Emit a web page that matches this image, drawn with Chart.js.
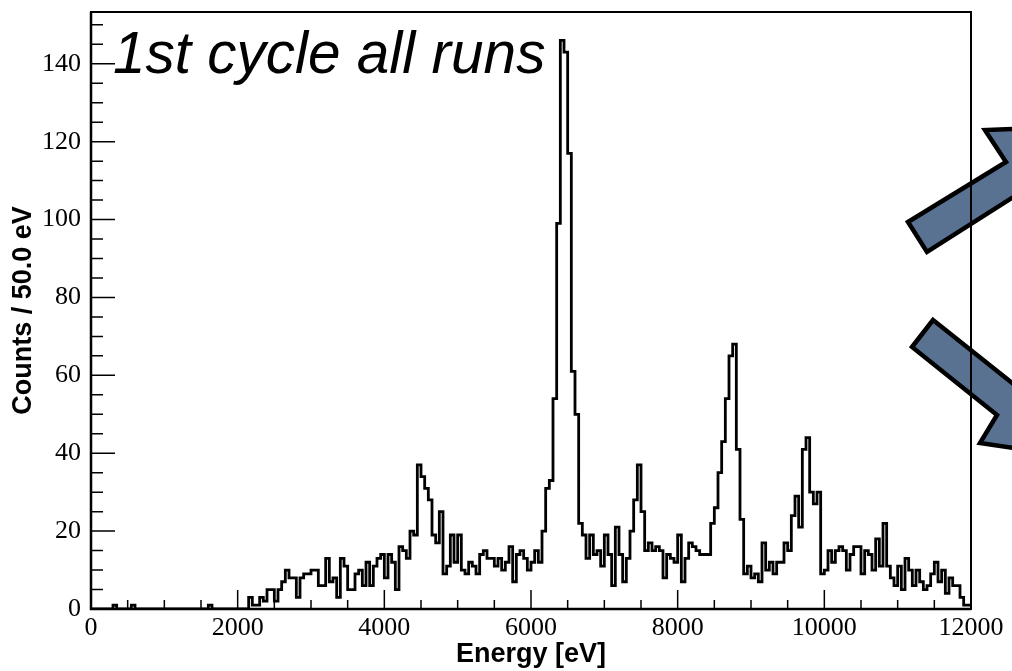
<!DOCTYPE html>
<html>
<head>
<meta charset="utf-8">
<script src="https://cdn.jsdelivr.net/npm/chart.js@4.4.1/dist/chart.umd.min.js"></script>
<style>
  html, body { margin: 0; padding: 0; background: #fff; }
  canvas { display: block; }
</style>
</head>
<body>
<canvas id="myChart" width="1012" height="671"></canvas>
<script>
// histogram: 240 bins of 50 eV from 0 to 12000 eV
const binWidth = 50;
const energyMin = 0;
const energyMax = 12000;
const countsMax = 153.3;

const counts = [
  0, 0, 0, 0, 0, 0, 1, 0, 0, 0,
  0, 1, 0, 0, 0, 0, 0, 0, 0, 0,
  0, 0, 0, 0, 0, 0, 0, 0, 0, 0,
  0, 0, 1, 0, 0, 0, 0, 0, 0, 0,
  0, 0, 0, 3, 1, 1, 3, 2, 5, 5,
  2, 5, 7, 10, 8, 8, 3, 8, 9, 9,
  10, 10, 6, 6, 13, 7, 8, 3, 13, 11,
  5, 5, 9, 10, 6, 12, 6, 11, 13, 14,
  8, 14, 12, 5, 16, 15, 13, 20, 19, 37,
  34, 31, 28, 19, 17, 25, 9, 11, 19, 12,
  19, 10, 9, 12, 11, 9, 14, 15, 13, 13,
  11, 13, 10, 12, 16, 7, 14, 15, 13, 10,
  12, 15, 12, 20, 31, 33, 54, 99, 146, 143,
  117, 61, 50, 22, 19, 13, 19, 14, 15, 11,
  19, 14, 6, 21, 14, 7, 13, 20, 28, 37,
  25, 15, 17, 15, 16, 15, 8, 14, 13, 12,
  19, 7, 13, 17, 16, 15, 14, 14, 14, 22,
  26, 35, 43, 54, 65, 68, 41, 23, 9, 11,
  8, 9, 7, 17, 10, 12, 9, 12, 12, 17,
  15, 24, 29, 21, 41, 44, 30, 27, 30, 9,
  10, 15, 12, 15, 16, 15, 10, 14, 16, 16,
  9, 15, 14, 10, 18, 11, 22, 11, 8, 6,
  11, 5, 13, 10, 6, 10, 7, 5, 6, 9,
  12, 7, 10, 4, 8, 6, 6, 3, 1, 1
];

const xTicks = [0, 2000, 4000, 6000, 8000, 10000, 12000];
const yTicks = [0, 20, 40, 60, 80, 100, 120, 140];
const xMinorStep = 500;
const yMinorStep = 5;

const plotTitle = "1st cycle all runs";
const xTitle = "Energy [eV]";
const yTitle = "Counts / 50.0 eV";

// bin left edges + closing edge
const steps = counts.map((c, i) => ({ x: energyMin + i * binWidth, y: c }));
steps.push({ x: energyMax, y: counts[counts.length - 1] });

// decorative arrows sitting on the right edge of the frame
const arrowShapes = [
  [[908, 222], [1006, 162], [985, 130], [1040, 128], [1040, 180], [927, 252]],
  [[933, 320], [1040, 405], [1040, 452], [980, 443], [997, 415], [912, 347]]
];

const rootStyle = {
  id: "rootStyle",
  afterDraw(chart) {
    const ctx = chart.ctx;
    const area = chart.chartArea;
    const xs = chart.scales.x;
    const ys = chart.scales.y;
    ctx.save();

    // arrows
    ctx.fillStyle = "#5a7291";
    ctx.strokeStyle = "#000";
    ctx.lineWidth = 4.5;
    ctx.lineJoin = "miter";
    arrowShapes.forEach((pts) => {
      ctx.beginPath();
      pts.forEach((p, i) => (i === 0 ? ctx.moveTo(p[0], p[1]) : ctx.lineTo(p[0], p[1])));
      ctx.closePath();
      ctx.fill();
      ctx.stroke();
    });

    // frame
    ctx.strokeStyle = "#000";
    ctx.lineWidth = 2;
    ctx.strokeRect(area.left, area.top, area.right - area.left, area.bottom - area.top);
    ctx.lineWidth = 2.5;
    ctx.beginPath();
    ctx.moveTo(area.left, area.top);
    ctx.lineTo(area.left, area.bottom);
    ctx.lineTo(area.right, area.bottom);
    ctx.stroke();

    // inward ticks
    ctx.lineWidth = 1.5;
    ctx.beginPath();
    for (let v = 0; v <= countsMax; v += yMinorStep) {
      const y = ys.getPixelForValue(v);
      const len = v % 20 === 0 ? 24 : 12;
      ctx.moveTo(area.left, y);
      ctx.lineTo(area.left + len, y);
    }
    for (let e = energyMin; e <= energyMax; e += xMinorStep) {
      const x = xs.getPixelForValue(e);
      const len = e % 2000 === 0 ? 19 : 9;
      ctx.moveTo(x, area.bottom);
      ctx.lineTo(x, area.bottom - len);
    }
    ctx.stroke();

    // title inside the frame
    ctx.fillStyle = "#000";
    ctx.font = "italic 58.5px 'Liberation Sans', Arial, sans-serif";
    ctx.textBaseline = "alphabetic";
    ctx.textAlign = "left";
    ctx.fillText(plotTitle, 113, 73);
    ctx.restore();
  }
};

const tickFont = { family: "'Liberation Serif', 'Times New Roman', serif", size: 26 };
const titleFont = { family: "'Liberation Sans', Arial, sans-serif", size: 27, weight: "bold" };
const noPad = (scale) => {
  scale.paddingTop = 0;
  scale.paddingBottom = 0;
  scale.paddingLeft = 0;
  scale.paddingRight = 0;
};

new Chart(document.getElementById("myChart"), {
  type: "line",
  data: {
    datasets: [{
      data: steps,
      stepped: "before",
      borderColor: "#000",
      borderWidth: 2.8,
      borderJoinStyle: "miter",
      pointRadius: 0,
      fill: false
    }]
  },
  options: {
    responsive: false,
    animation: false,
    devicePixelRatio: 1,
    layout: { padding: { top: 12, right: 41, left: 0, bottom: 0 } },
    plugins: { legend: { display: false }, tooltip: { enabled: false } },
    scales: {
      x: {
        type: "linear",
        min: energyMin,
        max: energyMax,
        afterBuildTicks: (scale) => { scale.ticks = xTicks.map((v) => ({ value: v })); },
        afterFit: (scale) => { scale.height = 62; noPad(scale); },
        grid: { display: false, drawTicks: false },
        border: { display: false },
        ticks: { font: tickFont, color: "#000", padding: 4, maxRotation: 0, autoSkip: false, callback: (v) => String(v) },
        title: { display: true, text: xTitle, font: titleFont, color: "#000", padding: { top: 0, bottom: 0 } }
      },
      y: {
        type: "linear",
        min: 0,
        max: countsMax,
        afterBuildTicks: (scale) => { scale.ticks = yTicks.map((v) => ({ value: v })); },
        afterFit: (scale) => { scale.width = 91; noPad(scale); },
        grid: { display: false, drawTicks: false },
        border: { display: false },
        ticks: { font: tickFont, color: "#000", padding: 10, callback: (v) => String(v) },
        title: { display: true, text: yTitle, font: titleFont, color: "#000", padding: { top: 7, bottom: 0 } }
      }
    }
  },
  plugins: [rootStyle]
});
</script>
</body>
</html>
